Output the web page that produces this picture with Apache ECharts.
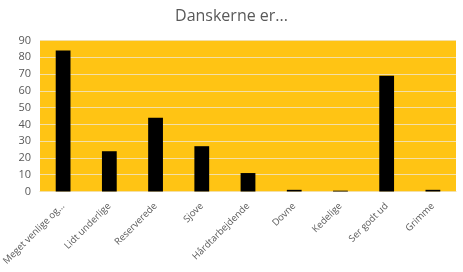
<!DOCTYPE html>
<html><head><meta charset="utf-8">
<script src="https://cdn.jsdelivr.net/npm/echarts@6/dist/echarts.min.js"></script>
<style>html,body{margin:0;padding:0;background:#fff}#c{width:463px;height:272px}</style>
</head><body><div id="c"></div>
<script>
var categories = ["Meget venlige og...", "Lidt underlige", "Reserverede", "Sjove", "Hårdtarbejdende", "Dovne", "Kedelige", "Ser godt ud", "Grimme"];
var values = [84, 24, 44, 27, 11, 1, 0.5, 69, 1];
var yTicks = [0, 90, 10];
var titleText = "Danskerne er...";

var chart = echarts.init(document.getElementById('c'));
chart.setOption({
  animation: false,
  title: {text: titleText, left: 'center', top: 3, textStyle: {fontFamily: 'Open Sans', fontWeight: 'normal', fontSize: 16, color: '#595959'}},
  grid: {left: 40, right: 7, top: 40.5, bottom: 80.5, show: true, backgroundColor: '#FFC414', borderWidth: 0, outerBoundsMode: 'none', containLabel: false},
  xAxis: {type: 'category', data: categories,
    axisLine: {show: true, lineStyle: {color: '#f3dfa8', width: 1}}, axisTick: {show: false},
    axisLabel: {rotate: 45, interval: 0, margin: 13, fontFamily: 'Open Sans', fontSize: 9.5, color: '#595959'}},
  yAxis: {type: 'value', min: yTicks[0], max: yTicks[1], interval: yTicks[2],
    axisLine: {show: false}, axisTick: {show: false},
    splitLine: {lineStyle: {color: '#f3dfa8', width: 1}},
    axisLabel: {margin: 9, fontFamily: 'Open Sans', fontSize: 11, color: '#595959'}},
  series: [{type: 'bar', data: values, barWidth: '32%', itemStyle: {color: '#000'}}]
});
</script></body></html>
